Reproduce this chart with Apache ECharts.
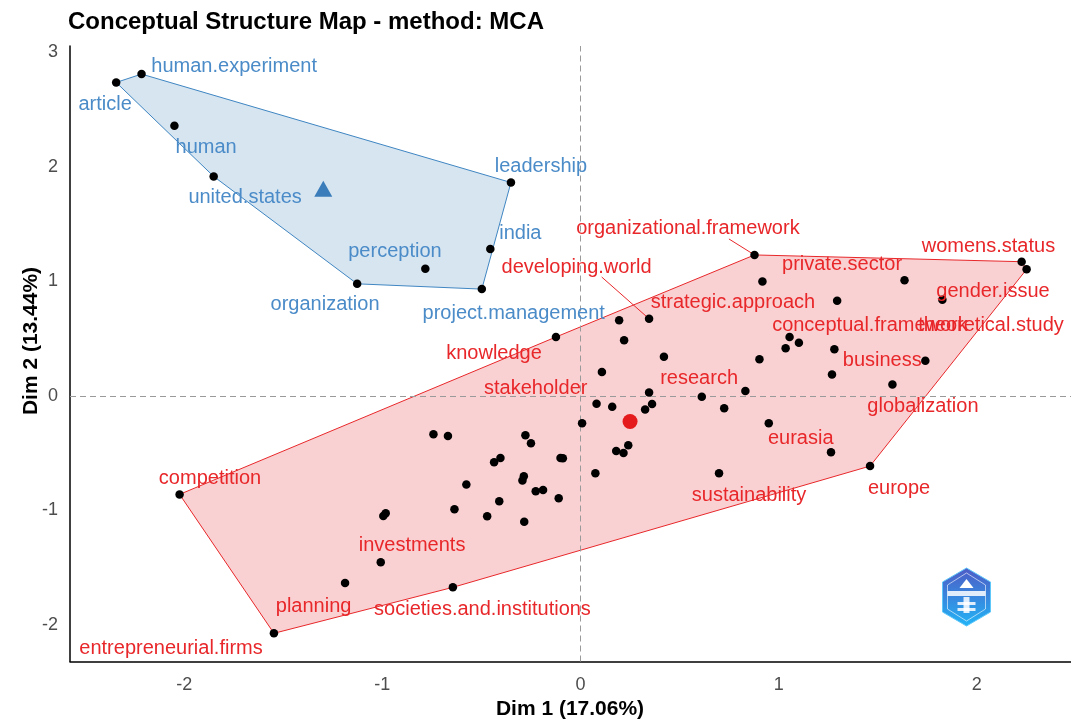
<!DOCTYPE html>
<html><head><meta charset="utf-8">
<script src="https://cdn.jsdelivr.net/npm/echarts@6/dist/echarts.min.js"></script>
<style>html,body{margin:0;padding:0;background:#fff}#c{width:1071px;height:721px}</style>
</head><body><div id="c"></div>
<script>
// ---------- data ----------
const blueWords = ['human.experiment','article','human','united.states','leadership','india','perception','organization','project.management'];
const blueX = [-2.215,-2.343,-2.049,-1.851,-0.351,-0.455,-0.783,-1.127,-0.498];
const blueY = [2.807,2.734,2.356,1.914,1.861,1.280,1.108,0.977,0.931];

const redWords = ['organizational.framework','strategic.approach','private.sector','womens.status','gender.issue','conceptual.framework','theoretical.study','','developing.world','knowledge',
 '','','','','','','','business','','',
 'globalization','','','research','stakeholder','','','','','',
 '','','','','eurasia','europe','sustainability','','','',
 '','','','','','','','','','',
 '','','','','','','','','competition','investments',
 'planning','societies.and.institutions','entrepreneurial.firms'];
const redX = [0.878,0.918,1.635,2.226,2.251,1.295,1.826,0.195,0.346,-0.124,
 0.220,0.421,1.055,1.102,1.035,1.281,0.903,1.740,0.108,1.269,
 1.574,0.346,0.832,0.612,0.081,0.160,0.361,0.326,0.725,0.008,
 0.950,0.241,0.180,0.217,1.264,1.461,0.699,0.075,-0.742,-0.669,
 -0.278,-0.250,-0.436,-0.404,-0.101,-0.089,-0.576,-0.286,-0.293,-0.226,
 -0.189,-0.410,-0.110,-0.636,-0.471,-0.284,-0.995,-0.983,-2.023,-1.008,
 -1.188,-0.644,-1.547];
const redY = [1.229,0.997,1.009,1.170,1.104,0.829,0.839,0.659,0.672,0.513,
 0.485,0.341,0.513,0.463,0.415,0.406,0.319,0.305,0.208,0.186,
 0.099,0.029,0.041,-0.008,-0.070,-0.095,-0.072,-0.120,-0.109,-0.240,
 -0.239,-0.431,-0.482,-0.499,-0.493,-0.613,-0.676,-0.676,-0.336,-0.351,
 -0.345,-0.414,-0.579,-0.543,-0.543,-0.545,-0.773,-0.702,-0.739,-0.833,
 -0.822,-0.920,-0.894,-0.990,-1.051,-1.099,-1.049,-1.025,-0.860,-1.453,
 -1.634,-1.671,-2.072];
const blueCentroid = [-1.298, 1.806];
const redCentroid = [0.250, -0.224];
const xTicks = [-2,-1,0,1,2];
const yTicks = [-2,-1,0,1,2,3];

// ---------- layout / style ----------
const BLUE = '#4A8BC8', BLUE_FILL = 'rgba(55,126,184,0.2)', BLUE_LINE = '#3F86C2';
const RED = '#E8272A', RED_FILL = 'rgba(228,26,28,0.2)';
const FONT = 'Liberation Sans, Arial, sans-serif';
// label offsets in pixels (label centre relative to its point), as repelled in the reference
const LABEL_OFFSET = {
 'human.experiment':[92.6,-7.3],'article':[-11.1,22.3],'human':[31.7,22],'united.states':[31.4,20.8],
 'leadership':[30,-15.7],'india':[30,-15.8],'perception':[-30.4,-17],'organization':[-32.1,21],
 'project.management':[31.9,24],
 'organizational.framework':[-66.6,-26],'developing.world':[-72.5,-51.5],'strategic.approach':[-29.5,20.7],
 'private.sector':[-62.5,-15.2],'womens.status':[-33.2,-15.7],'gender.issue':[-33.6,22.2],
 'theoretical.study':[48.6,25.4],'conceptual.framework':[32.8,24.2],'knowledge':[-61.9,16.3],
 'business':[-43.1,-0.8],'research':[-2.7,-18.4],'stakeholder':[-60.8,-15.5],'globalization':[30.5,22.2],
 'eurasia':[-30.3,-14.3],'sustainability':[30,21.7],'europe':[29,22],'competition':[30.4,-16],
 'investments':[31.3,-17.3],'planning':[-31.5,23.7],'societies.and.institutions':[29.6,21.7],
 'entrepreneurial.firms':[-102.9,15]
};
// start of repel segments (pixels relative to the point)
const LEADER = {'organizational.framework':[-25.6,-16], 'developing.world':[-47.4,-41.8]};

function hull(xs, ys){
  const pts = xs.map((x,i)=>[x,ys[i]]).sort((a,b)=>a[0]-b[0]||a[1]-b[1]);
  const cr=(o,a,b)=>(a[0]-o[0])*(b[1]-o[1])-(a[1]-o[1])*(b[0]-o[0]);
  const lo=[],up=[];
  for(const p of pts){while(lo.length>=2&&cr(lo[lo.length-2],lo[lo.length-1],p)<=0)lo.pop();lo.push(p);}
  for(let i=pts.length-1;i>=0;i--){const p=pts[i];while(up.length>=2&&cr(up[up.length-2],up[up.length-1],p)<=0)up.pop();up.push(p);}
  lo.pop();up.pop();return lo.concat(up);
}
const blueHull = hull(blueX, blueY), redHull = hull(redX, redY);

function polySeries(h, fill, stroke){
  return {type:'custom', silent:true, z:1, clip:false, data:[[0,0]],
    renderItem:(params, api)=>({type:'polygon', shape:{points:h.map(p=>api.coord(p))},
      style:{fill:fill, stroke:stroke, lineWidth:1}})};
}
function pointSeries(words, xs, ys, color){
  return {type:'scatter', z:5, symbol:'circle', symbolSize:8.5, itemStyle:{color:'#000', opacity:1},
    data: xs.map((x,i)=>({value:[x, ys[i]], name:words[i], label:{show: !!words[i]}})),
    label:{position:'inside', formatter:'{b}', color:color, fontSize:20, fontFamily:FONT,
      textBorderWidth:0, textBorderColor:'transparent', textShadowBlur:0},
    labelLayout:(p)=>{const o = LABEL_OFFSET[words[p.dataIndex]]||[0,0]; return {dx:o[0], dy:o[1]};}
  };
}
const leaderData = redX.map((x,i)=>[x, redY[i], i]).filter(d=>LEADER[redWords[d[2]]]);

const chart = echarts.init(document.getElementById('c'), null, {renderer:'canvas'});
chart.setOption({
  backgroundColor:'#fff',
  animation:false,
  title:{text:'Conceptual Structure Map - method: MCA', left:63, top:5,
    textStyle:{fontFamily:FONT, fontSize:24, fontWeight:'bold', color:'#000'}},
  grid:{left:70, top:46, right:0, bottom:59.5, containLabel:false},
  xAxis:{type:'value', min:-2.576, max:2.475,
    axisLine:{show:true, onZero:false, lineStyle:{color:'#000', width:1.5}},
    axisTick:{show:false}, splitLine:{show:false},
    axisLabel:{customValues:xTicks, color:'#4D4D4D', fontSize:18, fontFamily:FONT, margin:15}},
  yAxis:{type:'value', min:-2.318, max:3.052,
    axisLine:{show:true, onZero:false, lineStyle:{color:'#000', width:1.5}},
    axisTick:{show:false}, splitLine:{show:false},
    axisLabel:{customValues:yTicks, color:'#4D4D4D', fontSize:18, fontFamily:FONT, margin:12}},
  graphic:[
    {type:'text', x:570, y:709, style:{text:'Dim 1 (17.06%)', align:'center', verticalAlign:'middle',
      font:'bold 21px '+FONT, fill:'#000'}},
    {type:'text', rotation:Math.PI/2, x:31, y:341, style:{text:'Dim 2 (13.44%)', align:'center', verticalAlign:'middle',
      font:'bold 21px '+FONT, fill:'#000'}},
    {type:'group', x:966.5, y:597, children:[
      {type:'polygon', shape:{points:[[0,-29],[24,-15],[24,15],[0,29],[-24,15],[-24,-15]]},
        style:{fill:new echarts.graphic.LinearGradient(0,0,0,1,[{offset:0,color:'#4E5BC6'},{offset:1,color:'#22B4F6'}]), stroke:'#5FC8FA', lineWidth:1}},
      {type:'polygon', shape:{points:[[0,-24],[19,-12],[19,12],[0,24],[-19,12],[-19,-12]]},
        style:{fill:'none', stroke:'rgba(255,255,255,0.6)', lineWidth:1}},
      {type:'rect', shape:{x:-19, y:-6, width:38, height:5}, style:{fill:'#fff', opacity:0.85}},
      {type:'polygon', shape:{points:[[0,-18],[7,-9],[-7,-9]]}, style:{fill:'#fff'}},
      {type:'rect', shape:{x:-3, y:0, width:6, height:16}, style:{fill:'#fff', opacity:0.85}},
      {type:'rect', shape:{x:-9, y:5, width:18, height:3}, style:{fill:'#fff', opacity:0.85}},
      {type:'rect', shape:{x:-9, y:11, width:18, height:3}, style:{fill:'#fff', opacity:0.85}}
    ]}
  ],
  series:[
    {type:'line', data:[], silent:true, z:0,
      markLine:{silent:true, symbol:'none', animation:false, label:{show:false},
        lineStyle:{type:[6,4], color:'#9A9A9A', width:1},
        data:[{xAxis:0},{yAxis:0}]}},
    polySeries(blueHull, BLUE_FILL, BLUE_LINE),
    polySeries(redHull, RED_FILL, RED),
    {type:'custom', silent:true, z:4, clip:false, data:leaderData, encode:{x:0, y:1},
      renderItem:(params, api)=>{
        const p = api.coord([api.value(0), api.value(1)]);
        const o = LEADER[redWords[api.value(2)]];
        return {type:'line', shape:{x1:p[0]+o[0], y1:p[1]+o[1], x2:p[0], y2:p[1]}, style:{stroke:RED, lineWidth:1}};
      }},
    pointSeries(blueWords, blueX, blueY, BLUE),
    pointSeries(redWords, redX, redY, RED),
    {type:'scatter', z:6, symbol:'triangle', symbolSize:[18,16], itemStyle:{color:'#3A7DBA', opacity:1}, data:[blueCentroid]},
    {type:'scatter', z:6, symbol:'circle', symbolSize:15, itemStyle:{color:'#E41A1C', opacity:1}, data:[redCentroid]}
  ]
});
</script></body></html>
